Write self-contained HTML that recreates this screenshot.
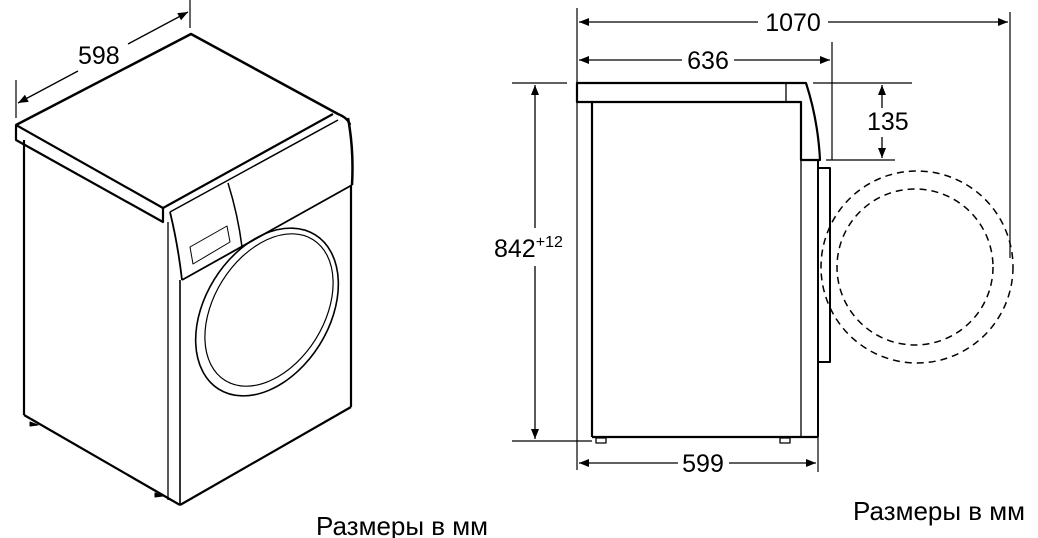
<!DOCTYPE html>
<html><head><meta charset="utf-8"><style>
html,body{margin:0;padding:0;background:#fff;}
svg{display:block;}
text{font-family:"Liberation Sans",sans-serif;fill:#000;}
</style></head><body>
<svg width="1038" height="538" viewBox="0 0 1038 538" xmlns="http://www.w3.org/2000/svg">
<defs>
<marker id="a" viewBox="0 0 10 10" refX="10" refY="5" markerWidth="16" markerHeight="10" markerUnits="userSpaceOnUse" orient="auto-start-reverse"><path d="M0,1 L10,5 L0,9 z" fill="#000"/></marker>
</defs>
<g fill="none" stroke="#000" stroke-linejoin="round">
<line x1="16" y1="80" x2="16" y2="118" stroke-width="1.2"/>
<line x1="190" y1="0" x2="190" y2="28" stroke-width="1.2"/>
<line x1="18" y1="103" x2="78" y2="71" stroke-width="1.3" marker-start="url(#a)"/>
<line x1="128" y1="44" x2="188" y2="12" stroke-width="1.3" marker-end="url(#a)"/>
<path d="M16,125 L191,34 L338,114 Q348,118 350,125" stroke-width="2.5"/>
<path d="M16,125 L16,140 L163,222 L163,208 Z" stroke-width="2.2"/>
<path d="M163,208 L333,114" stroke-width="2.2"/>
<path d="M170,212 L338,120" stroke-width="1.5"/>
<path d="M348,118 Q354,150 352,185" stroke-width="2.5"/>
<path d="M170,212 Q178,245 182,280" stroke-width="1.8"/>
<path d="M182,280 L352,185" stroke-width="1.8"/>
<path d="M228,183 Q238,215 242,247" stroke-width="1.5"/>
<path d="M190,247 L227,226 L230,242 L193,264 Z" stroke-width="1"/>
<line x1="24" y1="140" x2="24" y2="415" stroke-width="2.2"/>
<line x1="24" y1="415" x2="180" y2="505" stroke-width="2.2"/>
<line x1="180" y1="505" x2="351" y2="407" stroke-width="2.2"/>
<line x1="351" y1="185" x2="351" y2="407" stroke-width="2.2"/>
<line x1="168" y1="222" x2="168" y2="500" stroke-width="1.3"/>
<line x1="180" y1="280" x2="180" y2="505" stroke-width="1.6"/>
<path d="M30,422 l8,3 l-8,1 z M155,493 l8,3 l-8,1 z" fill="#000" stroke-width="1"/>
<ellipse cx="267" cy="312" rx="62" ry="91" transform="rotate(32 267 312)" stroke-width="1.6"/>
<ellipse cx="269" cy="310" rx="55" ry="83" transform="rotate(32 269 310)" stroke-width="1.2"/>

<line x1="577" y1="8" x2="577" y2="470" stroke-width="1.2"/>
<line x1="1010" y1="12" x2="1010" y2="258" stroke-width="1.2"/>
<line x1="832" y1="42" x2="832" y2="160" stroke-width="1.2"/>
<line x1="579" y1="22" x2="758" y2="22" stroke-width="1.3" marker-start="url(#a)"/>
<line x1="828" y1="22" x2="1008" y2="22" stroke-width="1.3" marker-end="url(#a)"/>
<line x1="579" y1="60" x2="682" y2="60" stroke-width="1.3" marker-start="url(#a)"/>
<line x1="734" y1="60" x2="830" y2="60" stroke-width="1.3" marker-end="url(#a)"/>
<line x1="512" y1="83" x2="567" y2="83" stroke-width="1.2"/>
<line x1="512" y1="441" x2="592" y2="441" stroke-width="1.2"/>
<line x1="535" y1="85" x2="535" y2="228" stroke-width="1.3" marker-start="url(#a)"/>
<line x1="535" y1="266" x2="535" y2="439" stroke-width="1.3" marker-end="url(#a)"/>
<line x1="813" y1="83" x2="912" y2="83" stroke-width="1.2"/>
<line x1="826" y1="160" x2="895" y2="160" stroke-width="1.2"/>
<line x1="882" y1="85" x2="882" y2="108" stroke-width="1.3" marker-start="url(#a)"/>
<line x1="882" y1="137" x2="882" y2="158" stroke-width="1.3" marker-end="url(#a)"/>
<line x1="818" y1="360" x2="818" y2="472" stroke-width="1.2"/>
<line x1="579" y1="463" x2="678" y2="463" stroke-width="1.3" marker-start="url(#a)"/>
<line x1="729" y1="463" x2="816" y2="463" stroke-width="1.3" marker-end="url(#a)"/>
<path d="M577,83 L806,83 Q818,120 820,160 L801,160 L801,102 L592,102 L577,102 Z" stroke-width="2.2"/>
<line x1="786" y1="83" x2="786" y2="102" stroke-width="1.3"/>
<line x1="592" y1="102" x2="592" y2="437" stroke-width="2.2"/>
<line x1="592" y1="437" x2="818" y2="437" stroke-width="2.2"/>
<line x1="801" y1="102" x2="801" y2="437" stroke-width="1.3"/>
<path d="M818,160 L818,437" stroke-width="2"/>
<path d="M818,168 L830,168 L830,362 L818,362" stroke-width="2"/>
<path d="M596,438 h10 v5 h-10 z M780,438 h10 v5 h-10 z" stroke-width="1.3"/>
<circle cx="917" cy="267" r="96" stroke-width="1.5" stroke-dasharray="7,5"/>
<circle cx="915" cy="267" r="78" stroke-width="1.5" stroke-dasharray="7,5"/>
</g>
<text x="78" y="64" font-size="25">598</text>
<text x="793" y="31" font-size="25" text-anchor="middle">1070</text>
<text x="708" y="69" font-size="25" text-anchor="middle">636</text>
<text x="867" y="130" font-size="25">135</text>
<text x="494" y="257" font-size="25">842<tspan font-size="16" dy="-10">+12</tspan></text>
<text x="703" y="472" font-size="25" text-anchor="middle">599</text>
<text x="316" y="535" font-size="26">Размеры в мм</text>
<text x="853" y="520" font-size="26">Размеры в мм</text>
</svg>
</body></html>
